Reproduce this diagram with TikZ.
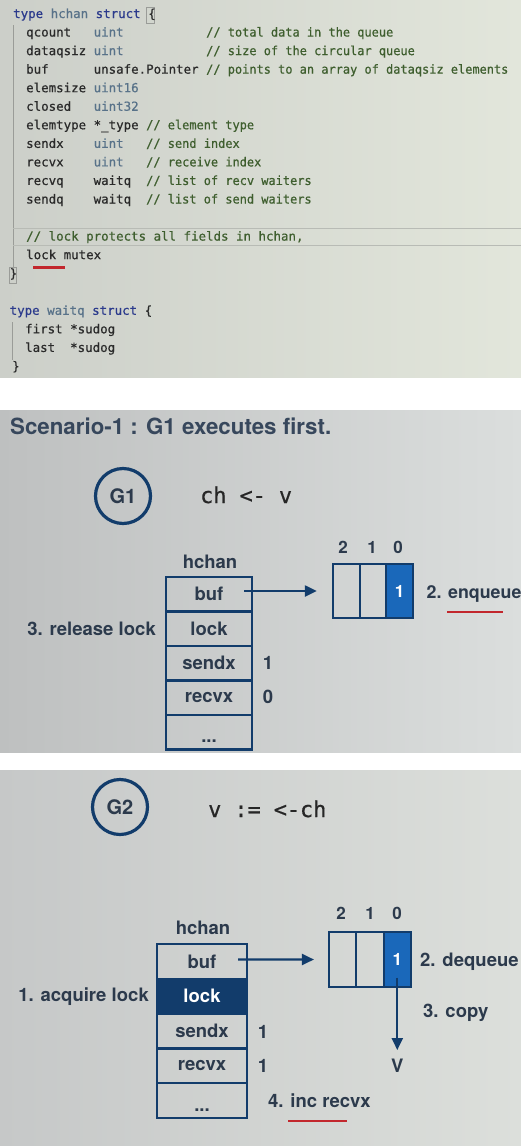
\documentclass[tikz,border=0pt]{standalone}
\usepackage{fontspec}
\usepackage{graphicx}
\setsansfont{TeX Gyre Heros}
\newfontfamily\codefont{DejaVu Sans Mono}[RawFeature={embolden=0.6}]
\usetikzlibrary{arrows.meta}

\definecolor{navy}{HTML}{123C6B}
\definecolor{cellblue}{HTML}{1A68BA}
\definecolor{inkslate}{HTML}{2C3A4C}
\definecolor{titleink}{HTML}{37475C}
\definecolor{kwblue}{HTML}{2B3A8C}
\definecolor{typegrey}{HTML}{587289}
\definecolor{fieldink}{HTML}{2A2A2A}
\definecolor{commentgreen}{HTML}{3E5E2E}
\definecolor{markred}{HTML}{C2272D}
\definecolor{guide}{HTML}{9A9C98}
\definecolor{rulegrey}{HTML}{B8BBB5}
\definecolor{codebgL}{HTML}{CCCFC9}
\definecolor{codebgR}{HTML}{E2E6DB}
\definecolor{slideAL}{HTML}{BEC0C0}
\definecolor{slideAR}{HTML}{DBDEDD}
\definecolor{slideBL}{HTML}{C6C8C8}
\definecolor{slideBR}{HTML}{DCDFDB}

% comments sit in a slightly narrower column
\newcommand\cmtxt[1]{\scalebox{0.96}[1]{#1}}

\tikzset{
  srccode/.style={anchor=base west, inner sep=0pt, font=\codefont\fontsize{12.45}{14}\selectfont, text=fieldink},
  srckw/.style={srccode, text=kwblue},
  srctype/.style={srccode, text=typegrey},
  srccomment/.style={srccode, text=commentgreen},
  hrow/.style={draw=navy, line width=2.2pt, minimum height=34.5pt, inner sep=0pt,
    font=\sffamily\bfseries\fontsize{18.5}{20}\selectfont, text=inkslate},
  dotsrow/.style={hrow, text height=21pt, text depth=0pt},
  qcell/.style={draw=navy, line width=2.2pt, minimum width=26.7pt, minimum height=54pt, inner sep=0pt,
    font=\sffamily\bfseries\fontsize{17}{19}\selectfont, text=white},
  idxlabel/.style={inner sep=0pt, font=\sffamily\bfseries\fontsize{17}{19}\selectfont, text=inkslate},
  steplabel/.style={inner sep=0pt, font=\sffamily\bfseries\fontsize{18.5}{20}\selectfont, text=inkslate},
  goroutine/.style={circle, draw=navy, line width=3.2pt, minimum size=55pt, inner sep=0pt,
    font=\sffamily\bfseries\fontsize{20}{22}\selectfont, text=inkslate},
  stmt/.style={anchor=base west, inner sep=0pt, font=\codefont\fontsize{21.8}{24}\selectfont, text=black!85},
  conn/.style={draw=navy, line width=2.2pt, -{Triangle[length=12pt, width=11pt]}},
  redmark/.style={draw=markred, line width=2.4pt},
}

\begin{document}
\begin{tikzpicture}[x=1pt, y=-1pt]
\useasboundingbox (0,0) rectangle (521,1146);

% panel backgrounds
\shade[left color=codebgL, right color=codebgR] (0,0) rectangle (521,377);
\shade[left color=slideAL, right color=slideAR] (0,410) rectangle (521,752);
\shade[left color=slideBL, right color=slideBR] (0,770) rectangle (521,1146);

% ---------- source of hchan / waitq ----------
\draw[guide, line width=0.9pt] (13.5,25) -- (13.5,268);
\draw[guide, line width=0.9pt] (12,322) -- (12,360);
\draw[rulegrey, line width=0.6pt] (13,228) -- (521,228);
\draw[rulegrey, line width=0.6pt] (13,245) -- (521,245);
\draw[guide, line width=0.8pt] (146.5,7.5) rectangle (154,23);
\draw[guide, line width=0.8pt] (9,267) rectangle (16.5,283);

\node[srckw] (l0a) at (13,18) {type};
\node[srctype] (l0b) at (50.5,18) {hchan};
\node[srckw] (l0c) at (95.5,18) {struct};
\node[srccode] (l0d) at (148,18) {\{};

\node[srccode]    (l1a) at (26,36.55) {qcount};
\node[srctype]    (l1b) at (93.5,36.55) {uint};
\node[srccomment] (l1c) at (206,36.55) {\cmtxt{// total data in the queue}};

\node[srccode]    (l2a) at (26,55.1) {dataqsiz};
\node[srctype]    (l2b) at (93.5,55.1) {uint};
\node[srccomment] (l2c) at (206,55.1) {\cmtxt{// size of the circular queue}};

\node[srccode]    (l3a) at (26,73.65) {buf};
\node[srccode]    (l3b) at (93.5,73.65) {unsafe.Pointer};
\node[srccomment] (l3c) at (206,73.65) {\cmtxt{// points to an array of dataqsiz elements}};

\node[srccode]    (l4a) at (26,92.2) {elemsize};
\node[srctype]    (l4b) at (93.5,92.2) {uint16};

\node[srccode]    (l5a) at (26,110.75) {closed};
\node[srctype]    (l5b) at (93.5,110.75) {uint32};

\node[srccode]    (l6a) at (26,129.3) {elemtype};
\node[srccode]    (l6b) at (93.5,129.3) {*\_type};
\node[srccomment] (l6c) at (146,129.3) {\cmtxt{// element type}};

\node[srccode]    (l7a) at (26,147.85) {sendx};
\node[srctype]    (l7b) at (93.5,147.85) {uint};
\node[srccomment] (l7c) at (146,147.85) {\cmtxt{// send index}};

\node[srccode]    (l8a) at (26,166.4) {recvx};
\node[srctype]    (l8b) at (93.5,166.4) {uint};
\node[srccomment] (l8c) at (146,166.4) {\cmtxt{// receive index}};

\node[srccode]    (l9a) at (26,184.95) {recvq};
\node[srccode]    (l9b) at (93.5,184.95) {waitq};
\node[srccomment] (l9c) at (146,184.95) {\cmtxt{// list of recv waiters}};

\node[srccode]    (l10a) at (26,203.5) {sendq};
\node[srccode]    (l10b) at (93.5,203.5) {waitq};
\node[srccomment] (l10c) at (146,203.5) {\cmtxt{// list of send waiters}};

\node[srccomment] (l12a) at (26,240.6) {// lock protects all fields in hchan,};
\node[srccode]    (l13a) at (26,259.15) {lock};
\node[srccode]    (l13b) at (63.5,259.15) {mutex};
\draw[redmark, line width=2.2pt] (33,267.5) -- (65,267.5);
\node[srccode]    (l14a) at (9.5,277.7) {\}};

\node[srckw]   (l16a) at (9.5,314.8) {type};
\node[srctype] (l16b) at (47,314.8) {waitq};
\node[srckw]   (l16c) at (92,314.8) {struct};
\node[srccode] (l16d) at (144.5,314.8) {\{};
\node[srccode] (l17a) at (25,333.35) {first};
\node[srccode] (l17b) at (70,333.35) {*sudog};
\node[srccode] (l18a) at (25,351.9) {last};
\node[srccode] (l18b) at (70,351.9) {*sudog};
\node[srccode] (l19a) at (12,370.45) {\}};

% ---------- scenario 1: G1 sends ----------
\node[anchor=base west, inner sep=0pt, font=\sffamily\bfseries\fontsize{22.3}{24}\selectfont, text=titleink]
  (title) at (10,434) {Scenario-1 : G1 executes first.};

\node[goroutine] (g1) at (123,496) {G1};
\node[stmt] (send) at (200,503) {ch <- v};

\node[steplabel] (h1) at (210,562) {hchan};
\node[hrow, minimum width=86pt] (b1buf)   at (209,594.25) {buf};
\node[hrow, minimum width=86pt] (b1lock)  at (209,628.75) {lock};
\node[hrow, minimum width=86pt] (b1sendx) at (209,663.25) {sendx};
\node[hrow, minimum width=86pt] (b1recvx) at (209,697.75) {recvx};
\node[dotsrow, minimum width=86pt] (b1more) at (209,732.25) {...};

\node[steplabel] (s1v) at (268,663) {1};
\node[steplabel] (r1v) at (268,697) {0};

\node[qcell] (q1two)  at (346.3,591) {};
\node[qcell] (q1one)  at (373,591) {};
\node[qcell, fill=cellblue] (q1zero) at (399.7,591) {1};
\node[idxlabel] (i1two)  at (343,547) {2};
\node[idxlabel] (i1one)  at (372,547) {1};
\node[idxlabel] (i1zero) at (398,547) {0};

\draw[conn] ([xshift=-9pt,yshift=3.25pt]b1buf.east) -- ([xshift=-15pt]q1two.west);

\node[steplabel, anchor=west, font=\sffamily\bfseries\fontsize{17.8}{20}\selectfont] (enq) at (426.5,594) {2. enqueue};
\draw[redmark] (447,612) -- (503,612);
\node[steplabel, anchor=east] (rel) at (156,629) {3. release lock};

% ---------- G2 receives ----------
\node[goroutine] (g2) at (120,807) {G2};
\node[stmt] (recv) at (208,817) {v := <-ch};

\node[steplabel] (h2) at (203,928) {hchan};
\node[hrow, minimum width=90pt] (b2buf)   at (202,961.4) {buf};
\node[hrow, minimum width=90pt, fill=navy, text=white] (b2lock) at (202,996.2) {lock};
\node[hrow, minimum width=90pt] (b2sendx) at (202,1031) {sendx};
\node[hrow, minimum width=90pt] (b2recvx) at (202,1065.8) {recvx};
\node[dotsrow, minimum width=90pt] (b2more) at (202,1100.6) {...};

\node[steplabel] (s2v) at (263,1032) {1};
\node[steplabel] (r2v) at (263,1066) {1};

\node[qcell, minimum width=27.3pt, minimum height=55pt] (q2two)  at (342.7,959.5) {};
\node[qcell, minimum width=27.3pt, minimum height=55pt] (q2one)  at (370,959.5) {};
\node[qcell, minimum width=27.3pt, minimum height=55pt, fill=cellblue] (q2zero) at (397.3,959.5) {1};
\node[idxlabel] (i2two)  at (341,913) {2};
\node[idxlabel] (i2one)  at (370,913) {1};
\node[idxlabel] (i2zero) at (397,913) {0};

\draw[conn] ([xshift=-10pt,yshift=2pt]b2buf.east) -- ([xshift=-14pt]q2two.west);

\node[steplabel] (vout) at (397.3,1066) {V};
\draw[conn] ([yshift=-18pt]q2zero.center) -- ([yshift=9pt]vout.north);

\node[steplabel, anchor=west] (deq) at (420,962) {2. dequeue};
\node[steplabel, anchor=west] (cpy) at (423,1013) {3. copy};
\node[steplabel, anchor=west] (inc) at (268,1101) {4. inc recvx};
\draw[redmark] (288,1121) -- (347,1121);
\node[steplabel, anchor=east] (acq) at (149,997) {1. acquire lock};
\end{tikzpicture}
\end{document}
